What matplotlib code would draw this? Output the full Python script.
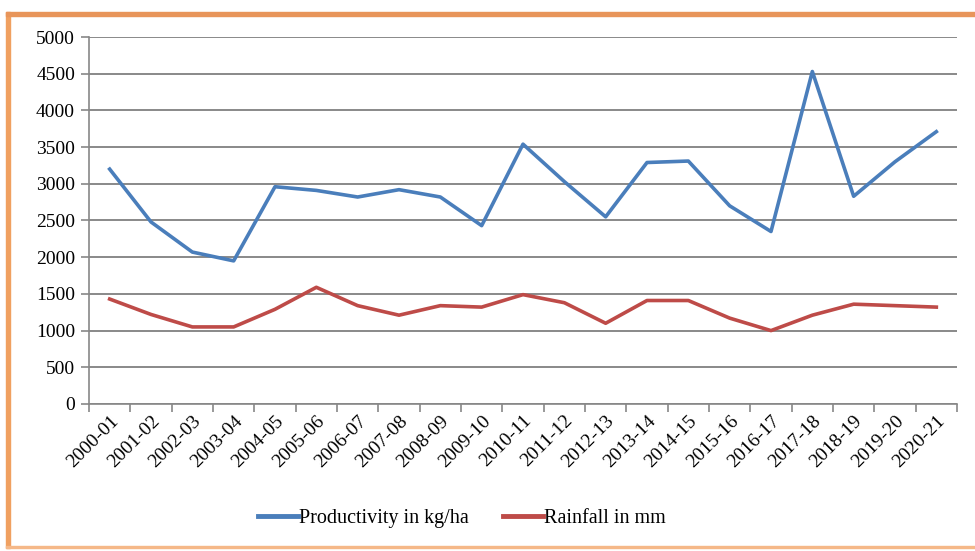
import matplotlib
matplotlib.use("Agg")
import matplotlib.pyplot as plt
from matplotlib.patches import Rectangle
from matplotlib.lines import Line2D

years = ["2000-01", "2001-02", "2002-03", "2003-04", "2004-05", "2005-06", "2006-07",
         "2007-08", "2008-09", "2009-10", "2010-11", "2011-12", "2012-13", "2013-14",
         "2014-15", "2015-16", "2016-17", "2017-18", "2018-19", "2019-20", "2020-21"]
productivity = [3200, 2480, 2070, 1950, 2960, 2910, 2820, 2920, 2820, 2430, 3540,
                3030, 2550, 3290, 3310, 2700, 2350, 4530, 2830, 3300, 3710]
rainfall = [1430, 1220, 1050, 1050, 1290, 1590, 1340, 1210, 1340, 1320, 1490,
            1380, 1100, 1410, 1410, 1170, 1000, 1210, 1360, 1340, 1320]
yticks = [0, 500, 1000, 1500, 2000, 2500, 3000, 3500, 4000, 4500, 5000]

W, H = 975, 551
fig = plt.figure(figsize=(W / 100, H / 100), dpi=100)
font = "Liberation Serif"

# orange frame
fig.patches.append(Rectangle((6 / W, 1 - 548 / H), 4 / W, (548 - 12) / H,
                             transform=fig.transFigure, color="#F0A060", zorder=0))
fig.patches.append(Rectangle((6 / W, 1 - 16 / H), 1 - 6 / W, 4 / H,
                             transform=fig.transFigure, color="#E8955A", zorder=0))
fig.patches.append(Rectangle((6 / W, 1 - 548 / H), 1 - 6 / W, 2 / H,
                             transform=fig.transFigure, color="#F5B888", zorder=0))

ax = fig.add_axes([89 / W, 1 - 404 / H, (957 - 89) / W, (404 - 37) / H])
x = list(range(len(years)))
ax.plot(x, productivity, color="#4A7EBB", lw=2.6, solid_joinstyle="round",
        label="Productivity in kg/ha")
ax.plot(x, rainfall, color="#BE4B48", lw=2.6, solid_joinstyle="round",
        label="Rainfall in mm")

ax.set_xlim(-0.5, len(years) - 0.5)
ax.set_ylim(0, 5000)
ax.set_yticks(yticks)
ax.set_yticklabels([str(v) for v in yticks], fontfamily=font, fontsize=14)
ax.set_xticks(x)
ax.set_xticklabels(years, rotation=45, ha="right", va="top", fontfamily=font,
                   fontsize=14, rotation_mode="anchor")
ax.tick_params(axis="x", which="major", length=0, pad=6)
ax.set_xticks([i - 0.5 for i in range(len(years) + 1)], minor=True)
ax.tick_params(axis="x", which="minor", length=6, color="#888888", width=1.2)
ax.tick_params(axis="y", length=6, color="#888888", width=1.2, pad=4)

ax.grid(axis="y", color="#808080", lw=1.3)
ax.set_axisbelow(True)
for s in ["top", "right"]:
    ax.spines[s].set_visible(False)
for s in ["left", "bottom"]:
    ax.spines[s].set_color("#888888")
    ax.spines[s].set_linewidth(1.2)

handles = [Line2D([], [], color="#4A7EBB", lw=3.5), Line2D([], [], color="#BE4B48", lw=3.5)]
fig.legend(handles, ["Productivity in kg/ha", "Rainfall in mm"], loc="center",
           bbox_to_anchor=(462 / W, 1 - 518 / H), ncol=2, frameon=False,
           prop={"family": font, "size": 14.5}, handlelength=2.0, handletextpad=0.05,
           columnspacing=1.7)

fig.savefig("out.png", dpi=100)
